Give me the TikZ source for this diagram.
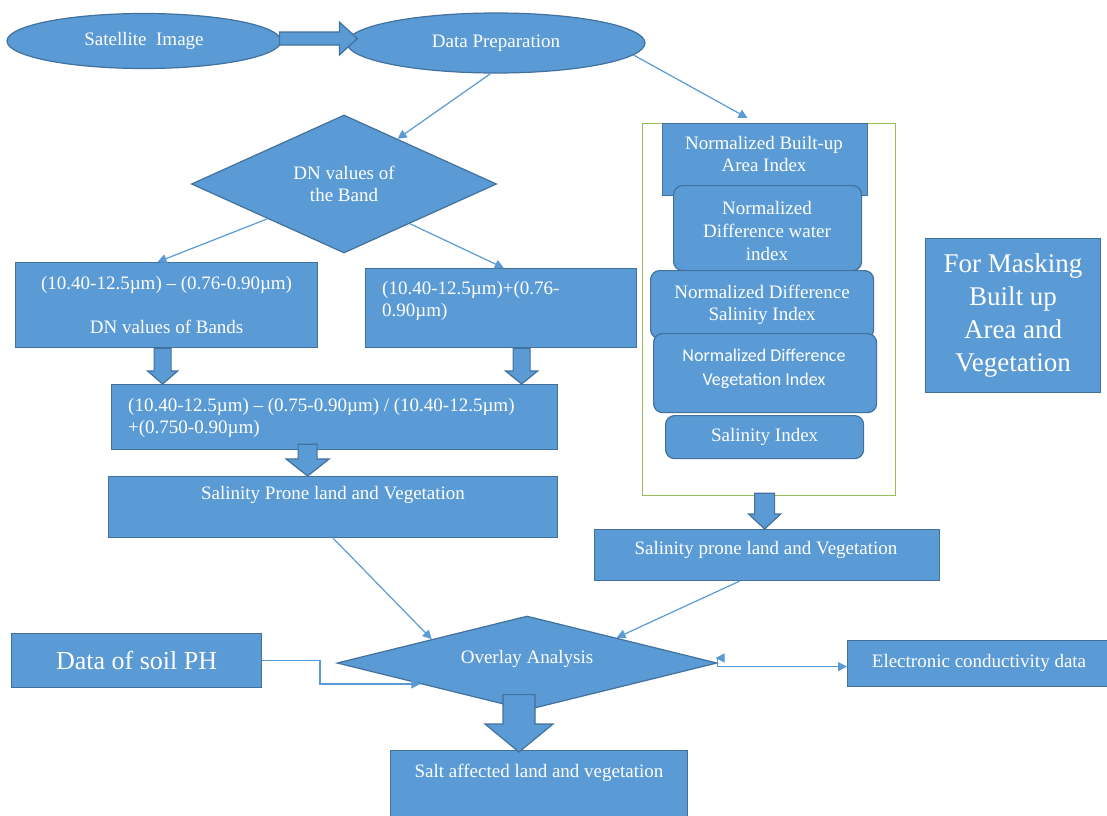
\documentclass[tikz,border=0pt]{standalone}
\usepackage{fontspec}
\setmainfont{Liberation Serif}
\newfontfamily\calibfont{Carlito}
\usetikzlibrary{shapes.geometric,calc,arrows.meta}
\definecolor{fillb}{HTML}{5B9BD5}
\definecolor{edgeb}{HTML}{41719C}
\definecolor{lineb}{HTML}{5B9BD5}
\definecolor{greenb}{HTML}{9BBB59}
% vertical block arrow: #1 start point, #2 point giving tip y, #3 shaft half width, #4 head half width, #5 head length
\newcommand\vblkarrow[5]{%
  \draw[blk] let \p1=#1, \p2=#2 in
    (\x1-#3pt,\y1) -- (\x1+#3pt,\y1) -- (\x1+#3pt,\y2+#5pt) -- (\x1+#4pt,\y2+#5pt)
    -- (\x1,\y2) -- (\x1-#4pt,\y2+#5pt) -- (\x1-#3pt,\y2+#5pt) -- cycle;}
% horizontal block arrow
\newcommand\hblkarrow[5]{%
  \draw[blk] let \p1=#1, \p2=#2 in
    (\x1,\y1+#3pt) -- (\x2-#5pt,\y1+#3pt) -- (\x2-#5pt,\y1+#4pt) -- (\x2,\y1)
    -- (\x2-#5pt,\y1-#4pt) -- (\x2-#5pt,\y1-#3pt) -- (\x1,\y1-#3pt) -- cycle;}
\begin{document}
\begin{tikzpicture}[x=1pt,y=-1pt,
  every node/.style={font=\fontsize{19}{22}\selectfont, text=white, inner sep=0pt},
  shp/.style={draw=edgeb, fill=fillb, line width=1.2pt},
  box/.style={shp, rectangle, anchor=north west},
  rbox/.style={box, rounded corners=9pt},
  blk/.style={draw=edgeb, fill=fillb, line width=1.2pt, line join=miter},
  conn/.style={draw=lineb, line width=1.2pt, -{Triangle[length=9pt,width=9pt]}},
  conntwo/.style={draw=lineb, line width=1.2pt, {Triangle[length=9pt,width=9pt]}-{Triangle[length=9pt,width=9pt]}},
]
\fill[white] (0,0) rectangle (1107,815);
\useasboundingbox (0,0) rectangle (1107,815);

% top ellipses
\node[shp, ellipse, minimum width=274pt, minimum height=55pt] (sat) at (144,41) {Satellite~ Image};
\node[shp, ellipse, minimum width=298pt, minimum height=60pt] (dp) at (496,43) {Data Preparation};
\hblkarrow{($(sat.east)+(-2,-2.5)$)}{($(dp.west)+(11,0)$)}{6.5}{16.5}{18}

% DN diamond
\node[shp, diamond, aspect=2.2, minimum width=305pt, minimum height=138pt, align=center] (dn) at (344,184) {DN values of\\the Band};

% left boxes
\node[box, minimum width=302pt, minimum height=85pt, align=center] (b1) at (15,262)
  {(10.40-12.5µm) – (0.76-0.90µm)\\[22pt]DN values of Bands};
\node[box, minimum width=271pt, minimum height=79pt] (b2) at (365,268) {};
\node[anchor=north west, align=left] (t2) at (382,281) {(10.40-12.5µm)+(0.76-\\0.90µm)};
\node[box, minimum width=446pt, minimum height=65pt] (b3) at (111,384) {};
\node[anchor=north west, align=left] (t3) at (128,398)
  {(10.40-12.5µm) – (0.75-0.90µm) / (10.40-12.5µm)\\+(0.750-0.90µm)};
\node[box, minimum width=449pt, minimum height=61pt] (b4) at (108,476) {};
\node (t4) at (333,495) {Salinity Prone land and Vegetation};

\vblkarrow{($(b1.south)+(-4,0)$)}{(b3.north)}{8.5}{15}{13}
\vblkarrow{($(b2.south)+(20.5,0)$)}{(b3.north)}{8.5}{16}{13}
\vblkarrow{($(b3.south)+(-27,-6)$)}{(b4.north)}{9.5}{21.5}{17}

% right group
\node[draw=greenb, line width=1.2pt, rectangle, anchor=north west, minimum width=253pt, minimum height=372pt] (grp) at (642,123) {};
\node[box, minimum width=205pt, minimum height=72pt, align=center] (nbai) at (662,123) {};
\node[align=center] (tnbai) at (764,154) {Normalized Built-up\\Area Index};
\node[rbox, minimum width=188pt, minimum height=85pt] (ndwi) at (673,185) {};
\node[align=center, font=\fontsize{19}{23}\selectfont] (tndwi) at (767,231) {Normalized\\Difference water\\index};
\node[rbox, minimum width=223pt, minimum height=68pt, align=center] (ndsi) at (650,270) {Normalized Difference\\Salinity Index};
\node[rbox, minimum width=223pt, minimum height=79pt] (ndvi) at (653,333) {};
\node[align=center, font=\calibfont\fontsize{18}{24}\selectfont] (tndvi) at (764,369) {Normalized Difference\\Vegetation Index};
\node[rbox, minimum width=198pt, minimum height=43pt] (si) at (665,415) {Salinity Index};

\node[box, minimum width=175pt, minimum height=154pt, align=center, font=\fontsize{27}{33}\selectfont] (mask) at (925,238)
  {For Masking\\Built up\\Area and\\Vegetation};

\node[box, minimum width=345pt, minimum height=51pt] (spl) at (594,529) {};
\node (tspl) at (766,550) {Salinity prone land and Vegetation};
\vblkarrow{($(grp.south)+(-4.5,-3)$)}{(spl.north)}{10}{16}{15}

% bottom
\node[box, minimum width=250pt, minimum height=54pt, font=\fontsize{26}{30}\selectfont] (soil) at (11,633) {Data of soil PH};
\node[shp, diamond, aspect=4, minimum width=380pt, minimum height=94pt] (ov) at (527,663) {};
\node (tov) at (527,659) {Overlay Analysis};
\node[box, minimum width=265pt, minimum height=46pt] (ec) at (847,640) {};
\node (tec) at (979,663) {Electronic conductivity data};
\node[box, minimum width=297pt, minimum height=80pt] (salt) at (390,750) {};
\node (tsalt) at (539,773) {Salt affected land and vegetation};
\vblkarrow{($(ov.south)+(-8,-16)$)}{($(salt.north)+(0,2)$)}{16}{34}{28}

% thin connectors
\draw[conn] (dp.-100) -- ($(dn.north)!0.35!(dn.east)$);
\draw[conn] (dp.-5) -- ($(grp.north west)!0.415!(grp.north east)+(0,-5)$);
\draw[conn] ($(dn.west)!0.5!(dn.south)$) -- ($(b1.north west)!0.47!(b1.north east)$);
\draw[conn] ($(dn.south)!0.43!(dn.east)$) -- ($(b2.north west)!0.51!(b2.north east)$);
\draw[conn] (b4.south) -- ($(ov.west)!0.5!(ov.north)$);
\draw[conn] ($(spl.south west)!0.42!(spl.south east)$) -- ($(ov.north)!0.47!(ov.east)$);
\coordinate (k1) at (320,0);
\draw[conn] (soil.east) -- (soil.east -| k1) |- ($(ov.west)!0.44!(ov.south)$);
\coordinate (k2) at (791,0);
\draw[conntwo] ($(ov.east)+(-2,-5)$) -- ($(ov.east)+(0,-5)$ -| k2) |- ($(ec.west)+(0,3)$);
\end{tikzpicture}
\end{document}
